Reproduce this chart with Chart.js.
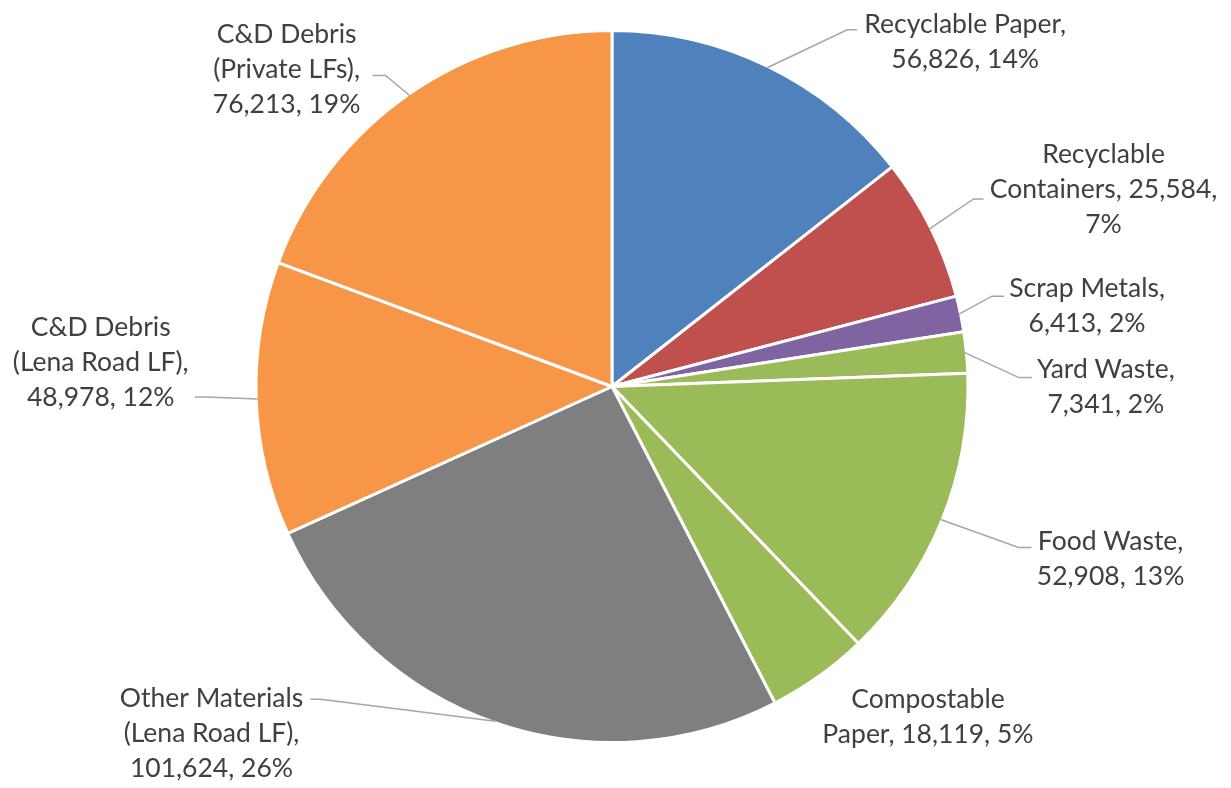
<!DOCTYPE html>
<html>
<head>
<meta charset="utf-8">
<script src="https://cdn.jsdelivr.net/npm/chart.js@4/dist/chart.umd.min.js"></script>
<style>
  body { margin: 0; background: #fff; }
  #wrap { width: 1231px; height: 788px; position: relative; }
</style>
</head>
<body>
<div id="wrap"><canvas id="pie"></canvas></div>
<script>
// data
const categories = ['Recyclable Paper', 'Recyclable Containers', 'Scrap Metals', 'Yard Waste', 'Food Waste',
  'Compostable Paper', 'Other Materials (Lena Road LF)', 'C&D Debris (Lena Road LF)', 'C&D Debris (Private LFs)'];
const tons = [56826, 25584, 6413, 7341, 52908, 18119, 101624, 48978, 76213];
const percents = [14, 7, 2, 2, 13, 5, 26, 12, 19];
const colors = ['#4F81BD', '#C0504D', '#8064A2', '#9BBB59', '#9BBB59', '#9BBB59', '#7F7F7F', '#F79646', '#F79646'];

// where each label sits, relative to the slice edge at its mid angle
// dx,dy = text block centre; ex,ey = leader elbow; tick = short horizontal bit; lines = words per line
const labelLayout = [
  { dx: 198, dy: -26, ex: 80, ey: -38, tick: 10, lines: [2, 2] },
  { dx: 174, dy: -39, ex: 44, ey: -30, tick: 10, lines: [1, 2, 1] },
  { dx: 128, dy: -8, ex: 33, ey: -18, tick: 12, lines: [2, 2] },
  { dx: 141, dy: 34, ex: 54, ey: 25, tick: 13, lines: [2, 2] },
  { dx: 170, dy: 39, ex: 78, ey: 28, tick: 13, lines: [2, 2] },
  { dx: 110, dy: 42, leader: false, lines: [1, 3] },
  { dx: -284, dy: 12, ex: -175, ey: -22, tick: -10, lines: [2, 3, 2] },
  { dx: -157, dy: -36, ex: -51, ey: -2, tick: -12, lines: [2, 3, 2] },
  { dx: -123, dy: -26, ex: -24, ey: -20, tick: -13, lines: [2, 2, 2] }
];

const lineH = 35;

function labelLines(i) {
  const txt = categories[i] + ', ' + tons[i].toLocaleString('en-US') + ', ' + percents[i] + '%';
  const words = txt.split(' ');
  const out = [];
  let k = 0;
  labelLayout[i].lines.forEach(function (n) {
    out.push(words.slice(k, k + n).join(' '));
    k += n;
  });
  return out;
}

const outsideLabels = {
  id: 'outsideLabels',
  afterDatasetsDraw(chart) {
    const ctx = chart.ctx;
    const arcs = chart.getDatasetMeta(0).data;
    ctx.save();
    arcs.forEach(function (arc, i) {
      const p = arc.getProps(['x', 'y', 'startAngle', 'endAngle', 'outerRadius'], true);
      const mid = (p.startAngle + p.endAngle) / 2;
      const r = p.outerRadius - 1.5;
      const ex = p.x + Math.cos(mid) * r;
      const ey = p.y + Math.sin(mid) * r;
      const lay = labelLayout[i];
      if (lay.leader !== false) {
        ctx.strokeStyle = '#A6A6A6';
        ctx.lineWidth = 1.5;
        ctx.beginPath();
        ctx.moveTo(ex, ey);
        ctx.lineTo(ex + lay.ex, ey + lay.ey);
        ctx.lineTo(ex + lay.ex + lay.tick, ey + lay.ey);
        ctx.stroke();
      }
      const lines = labelLines(i);
      ctx.fillStyle = '#404040';
      ctx.font = '26.5px Lato';
      ctx.textAlign = 'center';
      ctx.textBaseline = 'middle';
      const top = ey + lay.dy - (lines.length - 1) * lineH / 2;
      lines.forEach(function (s, j) {
        ctx.fillText(s, ex + lay.dx, top + j * lineH);
      });
    });
    ctx.restore();
  }
};

new Chart(document.getElementById('pie'), {
  type: 'pie',
  data: {
    labels: categories,
    datasets: [{
      data: tons,
      backgroundColor: colors,
      borderColor: '#ffffff',
      borderWidth: 3
    }]
  },
  options: {
    responsive: true,
    maintainAspectRatio: false,
    animation: false,
    layout: { padding: { top: 29, bottom: 44, left: 0, right: 7 } },
    plugins: {
      legend: { display: false },
      tooltip: { enabled: false }
    }
  },
  plugins: [outsideLabels]
});
</script>
</body>
</html>
